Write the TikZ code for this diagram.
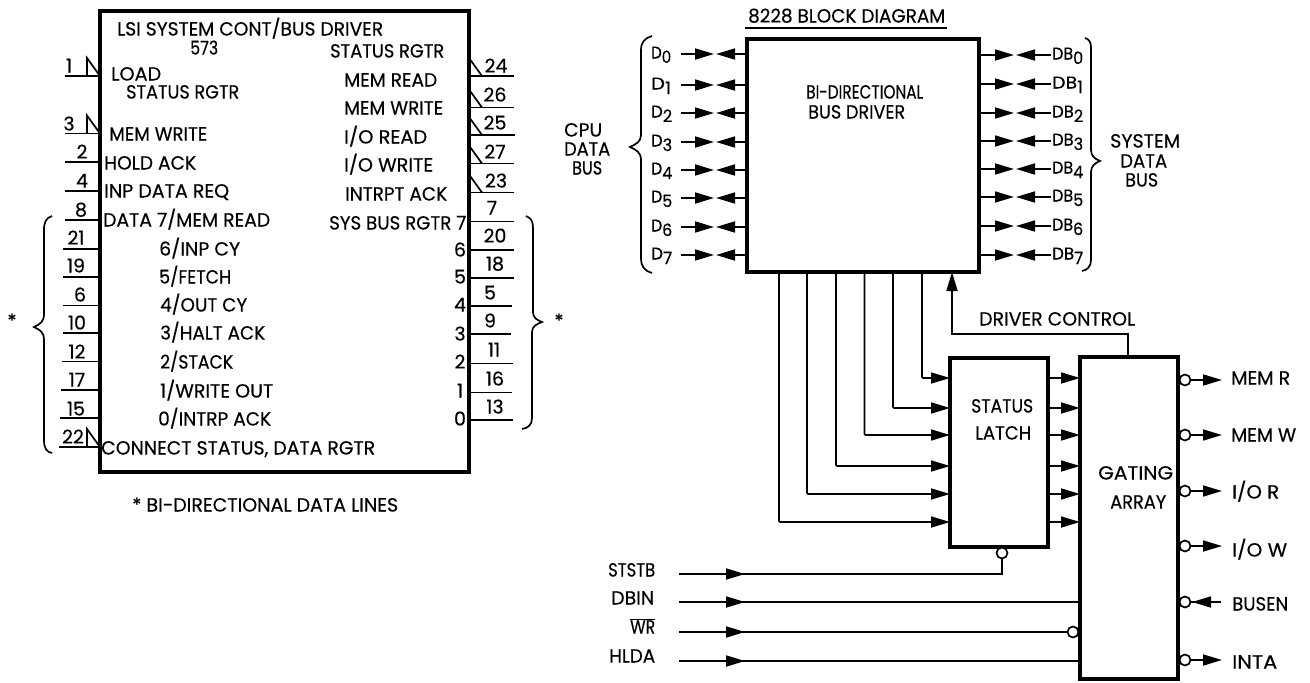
\documentclass[tikz,border=0pt]{standalone}
\usepackage{graphicx}
\usepackage{fontspec}
\setmainfont{Poppins}[FakeBold=0.35]
\usetikzlibrary{arrows.meta,decorations.markings}
\newcommand{\fw}[2]{\resizebox{#1pt}{\height}{#2}}
\newcommand{\dsub}[3]{\resizebox{#1pt}{\height}{#2\raisebox{-4.5pt}{#3}}}
\tikzset{
  x=1pt,y=-1pt,
  >={Triangle[length=19pt,width=11pt]},
  box/.style={draw=black,fill=white,line width=3.2pt,inner sep=0,outer sep=0,rectangle},
  wire/.style={draw=black,line width=1.7pt},
  bub/.style={circle,draw=black,fill=white,line width=1.7pt,minimum size=11pt,inner sep=0,outer sep=0},
  txt/.style={anchor=base west,inner sep=0,yshift=-6.5pt,font=\fontsize{19}{19}\selectfont},
  num/.style={anchor=base,inner sep=0,yshift=-6.5pt,font=\fontsize{19}{19}\selectfont},
  sub/.style={anchor=base west,inner sep=0,yshift=-5.5pt,font=\fontsize{17}{17}\selectfont},
  markarrow/.style={postaction={decorate,decoration={markings,mark=at position #1 with {\arrow{>}}}}}
}
\begin{document}
\begin{tikzpicture}
\useasboundingbox (0,0) rectangle (1310,683);
% ===== boxes =====
\node[box,minimum width=369pt,minimum height=461pt] (lsi) at (284.5,241.5) {};
\node[box,minimum width=232pt,minimum height=233pt] (drv) at (863,155.5) {};
\node[box,minimum width=98pt,minimum height=189pt] (lat) at (999,452.5) {};
\node[box,minimum width=98pt,minimum height=322pt] (gate) at (1129,518) {};
% ===== left chip pins =====
\foreach \yy/\n/\lx/\ly/\sx [count=\i] in {76/1/69/66/65,133.5/3/69/124/65,162/2/82/152/65,191/4/82/181/65,220/8/81/210/65,249/21/76/238/63,277/19/76/266/63,305.5/6/80/295/63,333/10/77/323/63,361.5/12/77/352/62,390/17/77/380/61,418/15/76/409/60,447/22/73/437/59}{
  \coordinate (lp\i) at (\sx,\yy);
  \draw[wire] (lp\i) -- (lsi.west |- lp\i);
  \node[num] (ln\i) at (\lx,\ly) {\n};
}
\foreach \yy in {76,133.5,447}{
  \coordinate (na) at (87,\yy);
  \coordinate (nb) at (87,\yy-18);
  \draw[wire,line join=miter] (na) -- (nb) -- (lsi.west |- na);
}
\foreach \yy/\n/\lx/\ly/\sx [count=\i] in {76/24/496/66/514,107.5/26/495/95/514,135/25/495/123/515,163.5/27/495/152/514,192.5/23/496/181/514,221.5/7/492/208/514,250/20/495/236/514,278/18/495/264/514,306/5/490/293/512,334/9/490/321/511,363.5/11/494/350/513,392.5/16/495/379/512,420/13/495/407/513}{
  \coordinate (rp\i) at (\sx,\yy);
  \draw[wire] (lsi.east |- rp\i) -- (rp\i);
  \node[num] (rn\i) at (\lx,\ly) {\n};
}
\foreach \yy in {76,107.5,135,163.5,192.5}{
  \coordinate (nc) at (482,\yy);
  \coordinate (nd) at (469,\yy-18);
  \draw[wire] (nd) -- (nc);
}
% ===== left chip texts =====
\foreach \xx/\yy/\ww/\lab [count=\i] in {
 117/29/266/{LSI SYSTEM CONT/BUS DRIVER},
 190/48/28/573,
 330/51/114/STATUS RGTR,
 344/80/93/MEM READ,
 344/108/99/MEM WRITE,
 344/137/83/{I/O READ},
 344/165/89/{I/O WRITE},
 345/194/102/INTRPT ACK,
 329/223/137/SYS BUS RGTR 7,
 111/74/50/LOAD,
 126/92/113/STATUS RGTR,
 109/134/98/MEM WRITE,
 104/163/92/HOLD ACK,
 104/191/125/INP DATA REQ,
 103/220/167/{DATA 7/MEM READ},
 159/249/81/{6/INP CY},
 159/277/72/{5/FETCH},
 160/305/87/{4/OUT CY},
 160/333/105/{3/HALT ACK},
 160/362/73/{2/STACK},
 160/391/113/{1/WRITE OUT},
 158/419/113/{0/INTRP ACK},
 101/448/274/{CONNECT STATUS, DATA RGTR},
 132/505/266/* BI-DIRECTIONAL DATA LINES,
 748/16/197/8228 BLOCK DIAGRAM,
 806/92/117/BI-DIRECTIONAL,
 808/112/97/BUS DRIVER,
 979/319/156/DRIVER CONTROL,
 971/406/62/STATUS,
 975/433/56/LATCH,
 1098/473/75/GATING,
 1110/502/56/ARRAY,
 1231/378/59/MEM R,
 1231/435/65/MEM W,
 1232/492/47/{I/O R},
 1232/550/55/{I/O W},
 1232/604/56/BUSEN,
 1232/662/45/INTA,
 608/570/47/STSTB,
 611/598/43/DBIN,
 630/627/25/$\overline{\mbox{WR}}$,
 609/656/46/HLDA,
 564/130/38/CPU,
 564/149/46/DATA,
 572/168/30/BUS,
 1110/141/70/SYSTEM,
 1120/161/47/DATA,
 1125/180/33/BUS}{
  \node[txt] (t\i) at (\xx,\yy) {\fw{\ww}{\lab}};
}
\foreach \dd/\yy [count=\i] in {6/250,5/277,4/305,3/334,2/362,1/391,0/419}{
  \node[num] (i\i) at (460,\yy) {\dd};
}
\node[num] (stl) at (12,321) {*};
\node[num] (str) at (559,321) {*};
% ===== title underline =====
\coordinate (ula) at (745,28); \coordinate (ulb) at (947,28);
\draw[wire] (ula) -- (ulb);
% ===== braces =====
\draw[line width=1.7pt] (52,216) .. controls (46,218) and (44,222) .. (44,230) -- (44,314) .. controls (44,322) and (40,324) .. (34,327) .. controls (40,330) and (44,332) .. (44,340) -- (44,440) .. controls (44,449) and (47,452) .. (52,453);
\draw[line width=1.7pt] (526,216) .. controls (531,218) and (533,221) .. (533,228) -- (533,312) .. controls (533,318) and (537,320) .. (542,322) .. controls (537,324) and (532,326) .. (532,332) -- (532,418) .. controls (532,425) and (528,428) .. (522,429);
\draw[line width=1.7pt] (652,36) .. controls (645,38) and (641,42) .. (641,50) -- (641,135) .. controls (641,142) and (636,144) .. (630,147) .. controls (636,150) and (641,152) .. (641,160) -- (641,258) .. controls (641,267) and (645,271) .. (652,273);
\draw[line width=1.7pt] (1085,38) .. controls (1089,39) and (1091,42) .. (1091,48) -- (1091,150) .. controls (1091,156) and (1095,159) .. (1100,161) .. controls (1095,163) and (1091,166) .. (1091,172) -- (1091,260) .. controls (1091,267) and (1087,270) .. (1082,271);
% ===== CPU data bus =====
\foreach \yy/\dd/\ww [count=\i] in {54/0/20,85/1/20,113/2/21,142/3/21,170/4/21,198/5/21,227/6/21,255/7/21}{
  \node[sub] (dl\i) at (651,\yy-1) {\dsub{\ww}{D}{\dd}};
  \coordinate (da\i) at (681,\yy);
  \coordinate (dr\i) at (714,\yy);
  \coordinate (db\i) at (716,\yy);
  \draw[wire,->] (da\i) -- (dr\i);
  \draw[wire,->] (drv.west |- db\i) -- (db\i);
}
\foreach \yy/\dd [count=\i] in {55/0,84/1,113/2,141/3,169/4,197/5,226/6,255/7}{
  \node[sub] (sl\i) at (1052,\yy-1) {\dsub{31}{DB}{\dd}};
  \coordinate (sa\i) at (1051,\yy);
  \coordinate (sr\i) at (1014,\yy);
  \coordinate (sb\i) at (1016,\yy);
  \draw[wire,->] (drv.east |- sr\i) -- (sr\i);
  \draw[wire,->] (sa\i) -- (sb\i);
}
% ===== driver to latch, latch to gating =====
\foreach \xx/\yy [count=\i] in {922/378,893/408,864.5/435,836/466,807/494,779/522}{
  \coordinate (bend\i) at (\xx,\yy);
  \draw[wire,->,rounded corners=1pt] (drv.south -| bend\i) -- (bend\i) -- (lat.west |- bend\i);
  \draw[wire,->] (lat.east |- bend\i) -- (gate.west |- bend\i);
}
% ===== driver control =====
\coordinate (dc1) at (1128,334);
\coordinate (dc2) at (952,334);
\draw[wire,->] (gate.north -| dc1) -- (dc1) -- (dc2) -- (drv.south -| dc2);
% ===== control inputs =====
\node[bub] (blat) at (1002,553) {};
\node[bub] (bwr) at (1073,632) {};
\coordinate (c1) at (679,574);
\coordinate (c2) at (679,602);
\coordinate (c3) at (679,632);
\coordinate (c4) at (679,661);
\draw[wire,markarrow=66pt] (c1) -- (blat |- c1) -- (blat.south);
\draw[wire,markarrow=66pt] (c2) -- (gate.west |- c2);
\draw[wire,markarrow=66pt] (c3) -- (bwr.west);
\draw[wire,markarrow=66pt] (c4) -- (gate.west |- c4);
% ===== gating outputs =====
\foreach \yy [count=\i] in {380,435,491,546,660}{
  \node[bub] (bo\i) at (1185,\yy) {};
  \coordinate (eo\i) at (1222,\yy);
  \draw[wire,->] (bo\i.east) -- (eo\i);
}
\node[bub] (bbus) at (1185,602) {};
\coordinate (ebus) at (1221,602);
\draw[wire,markarrow=29pt] (ebus) -- (bbus.east);
\end{tikzpicture}
\end{document}
